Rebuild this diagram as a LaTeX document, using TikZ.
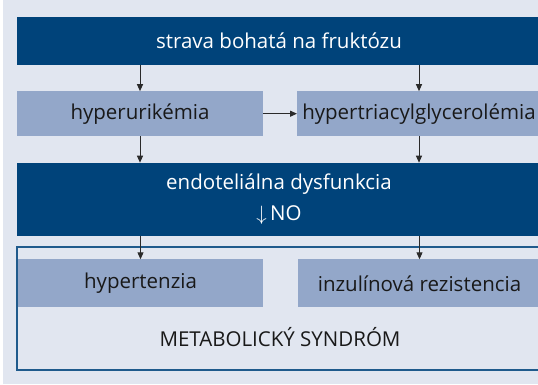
\documentclass[tikz,border=0pt]{standalone}
\usepackage{fontspec}
\setmainfont{Open Sans}
\usetikzlibrary{arrows.meta}
\definecolor{navy}{HTML}{00437A}
\definecolor{steel}{HTML}{93A7C9}
\definecolor{paleback}{HTML}{E1E6F0}
\definecolor{framecol}{HTML}{1F5A8C}
\definecolor{inkgrey}{HTML}{2A2A2A}
\tikzset{%
    darkbox/.style={inner sep=0pt,outer sep=0pt,fill=navy,text=white,align=center,
        font=\fontsize{20.5}{31}\selectfont},
    lightbox/.style={inner sep=0pt,outer sep=0pt,fill=steel,text=black!90,
        font=\fontsize{20.5}{24}\selectfont}
}
\begin{document}
\begin{tikzpicture}[x=1pt,y=-1pt,
            conn/.style={draw=inkgrey,line width=1pt,-{Triangle[length=7pt,width=6pt]}}
            ]
            \useasboundingbox (0,0) rectangle (538,384);
            \fill[white] (0,0) rectangle (3,384);
            \fill[paleback] (3,0) rectangle (538,384);

            \node[darkbox,minimum width=524pt,minimum height=48pt] (diet) at (279,40.5){strava bohatá na fruktózu};

            \node[lightbox,minimum width=246pt,minimum height=45pt] (uric) at (140,113.7){hyperurikémia};
            \node[lightbox,minimum width=244pt,minimum height=45pt] (trig) at (419,113.7){hypertriacylglycerolémia};

            \node[darkbox,minimum width=524pt,minimum height=73pt] (endo) at (279,199.2){endoteliálna dysfunkcia\\$\downarrow$\,NO};

            \node[draw=framecol,line width=1.5pt,inner sep=0pt,minimum width=524pt,minimum height=123pt] (msframe) at (279,308.4){};
            \node[lightbox,minimum width=245pt,minimum height=48pt] (hyp) at (140.5,283.3){hypertenzia};
            \node[lightbox,minimum width=243pt,minimum height=48pt] (ins) at (419.5,283.3){inzulínová rezistencia};
            \node[anchor=base,font=\fontsize{20.5}{24}\selectfont,text=black!90] (ms) at (280,346){METABOLICKÝ SYNDRÓM};

            \draw[conn] (uric.north |- diet.south) -- (uric.north);
            \draw[conn] (trig.north |- diet.south) -- (trig.north);
            \draw[conn] (uric.east) -- (trig.west);
            \draw[conn] (uric.south) -- (uric.south |- endo.north);
            \draw[conn] (trig.south) -- (trig.south |- endo.north);
            \draw[conn] (hyp.north |- endo.south) -- (hyp.north);
            \draw[conn] (ins.north |- endo.south) -- (ins.north);
        \end{tikzpicture}
\end{document}
